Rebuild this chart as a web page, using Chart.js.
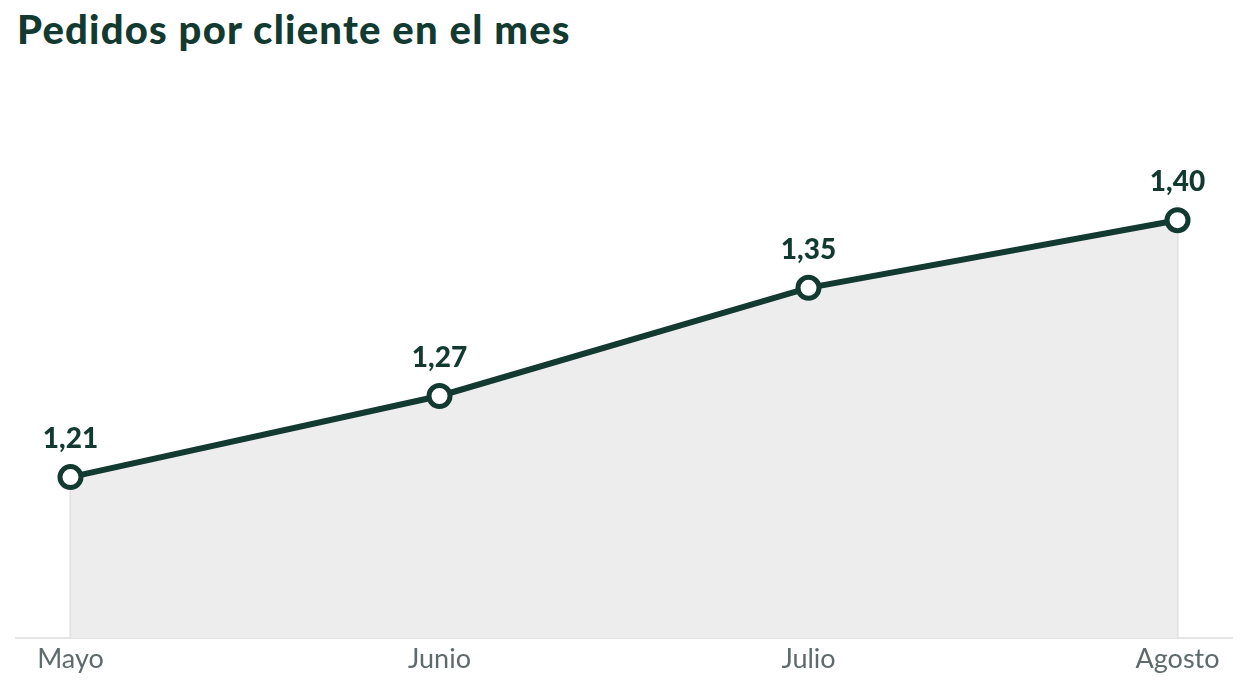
<!DOCTYPE html>
<html>
<head>
<meta charset="utf-8">
<script src="https://cdn.jsdelivr.net/npm/chart.js@4.4.0/dist/chart.umd.min.js"></script>
<style>
  html, body { margin: 0; padding: 0; background: #fff; }
  #wrap { position: relative; width: 1248px; height: 689px; }
  h1 {
    position: absolute; left: 17px; top: 5px; margin: 0;
    font-family: Lato, sans-serif; font-weight: 900; font-size: 40px;
    color: #133a31; letter-spacing: 1.2px;
  }
  canvas { position: absolute; left: 0; top: 0; }
</style>
</head>
<body>
<div id="wrap">
  <h1>Pedidos por cliente en el mes</h1>
  <canvas id="grafico" width="1248" height="689"></canvas>
</div>
<script>
// datos
let meses = ["Mayo", "Junio", "Julio", "Agosto"];
let pedidos = [1.21, 1.27, 1.35, 1.40];

let verde = '#133a31';

// etiquetas encima de cada punto
let etiquetas = {
    id: 'etiquetas',
    afterDatasetsDraw(chart) {
        let ctx = chart.ctx;
        let puntos = chart.getDatasetMeta(0).data;
        ctx.save();
        ctx.font = '900 28px Lato, sans-serif';
        ctx.fillStyle = verde;
        ctx.textAlign = 'center';
        ctx.textBaseline = 'middle';
        puntos.forEach((p, i) => {
            ctx.fillText(pedidos[i].toFixed(2).replace('.', ','), p.x, p.y - 38);
        });
        ctx.restore();
    }
};

// bordes verticales del area rellena
let bordes = {
    id: 'bordes',
    beforeDatasetsDraw(chart) {
        let ctx = chart.ctx;
        let puntos = chart.getDatasetMeta(0).data;
        let abajo = chart.chartArea.bottom;
        ctx.save();
        ctx.strokeStyle = '#dfdfdf';
        ctx.lineWidth = 2;
        [puntos[0], puntos[puntos.length - 1]].forEach(p => {
            ctx.beginPath();
            ctx.moveTo(p.x, p.y);
            ctx.lineTo(p.x, abajo);
            ctx.stroke();
        });
        ctx.restore();
    }
};

let ctx = document.getElementById('grafico').getContext('2d');
let chart = new Chart(ctx, {
    type: 'line',
    data: {
        datasets: [{
            data: pedidos.map((v, i) => ({ x: i, y: v })),
            borderColor: verde,
            borderWidth: 6,
            backgroundColor: '#ededed',
            fill: 'start',
            tension: 0,
            pointRadius: 10.5,
            pointBorderWidth: 5,
            pointBackgroundColor: '#ffffff',
            pointBorderColor: verde
        }]
    },
    options: {
        responsive: false,
        animation: false,
        layout: { padding: { left: 15, right: 15, top: 85, bottom: 0 } },
        plugins: {
            legend: { display: false },
            tooltip: { enabled: false }
        },
        scales: {
            x: {
                type: 'linear',
                min: -0.149,
                max: 3.149,
                afterBuildTicks: scale => {
                    scale.ticks = meses.map((m, i) => ({ value: i }));
                },
                afterFit: scale => { scale.height = 51; },
                ticks: {
                    callback: v => meses[v],
                    color: '#5e6a6c',
                    font: { family: 'Lato, sans-serif', size: 27 },
                    padding: 5,
                    maxRotation: 0
                },
                grid: { display: true, drawOnChartArea: false, drawTicks: false },
                border: { display: true, color: '#e4e4e4', width: 2 }
            },
            y: {
                display: false,
                min: 1.091,
                max: 1.5
            }
        }
    },
    plugins: [bordes, etiquetas]
});
</script>
</body>
</html>
